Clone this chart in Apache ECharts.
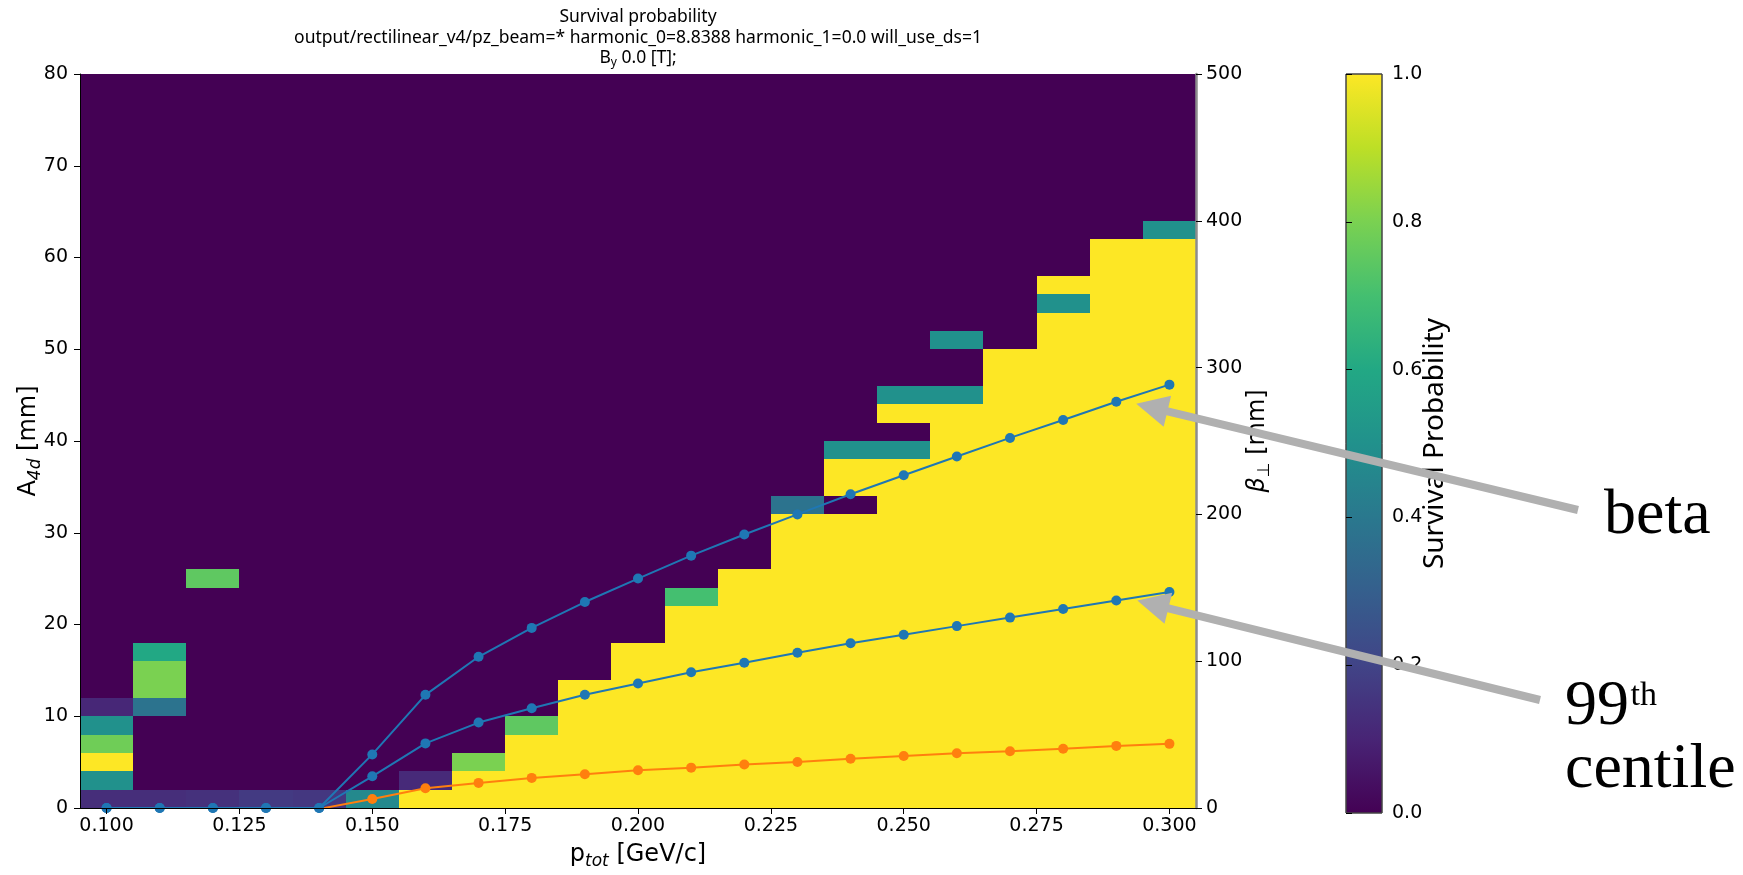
<!DOCTYPE html>
<html><head><meta charset="utf-8">
<script src="https://cdn.jsdelivr.net/npm/echarts@6/dist/echarts.min.js"></script>
<style>html,body{margin:0;padding:0;background:#fff}#c{width:1743px;height:875px}</style>
</head><body><div id="c"></div>
<script>
// ---------------- data ----------------
const pTot = [0.10,0.11,0.12,0.13,0.14,0.15,0.16,0.17,0.18,0.19,0.20,0.21,0.22,0.23,0.24,0.25,0.26,0.27,0.28,0.29,0.30];
const xTickValues = [0.100,0.125,0.150,0.175,0.200,0.225,0.250,0.275,0.300];
const pBinWidth = 0.01;     // GeV/c
const aBinWidth = 2;        // mm
const aMax = 80;
// survival probability per p_tot column, listed bottom-up in 2 mm A_4d bins (bins not listed are 0)
const surv010 = [0.13,0.5,1,0.78,0.5,0.11];
const surv011 = [0.13,0,0,0,0,0.38,0.8,0.8,0.6];
const surv012 = [0.14,0,0,0,0,0,0,0,0,0,0,0,0.75];
const surv013 = [0.17];
const surv014 = [0.16];
const surv015 = [0.47];
const surv016 = [1,0.12];
const surv017 = [1,1,0.8];
const surv018 = [1,1,1,1,0.75];
const surv019 = [1,1,1,1,1,1,1];
const surv020 = [1,1,1,1,1,1,1,1,1];
const surv021 = [1,1,1,1,1,1,1,1,1,1,1,0.7];
const surv022 = [1,1,1,1,1,1,1,1,1,1,1,1,1];
const surv023 = [1,1,1,1,1,1,1,1,1,1,1,1,1,1,1,1,0.38];
const surv024 = [1,1,1,1,1,1,1,1,1,1,1,1,1,1,1,1,0,1,1,0.5];
const surv025 = [1,1,1,1,1,1,1,1,1,1,1,1,1,1,1,1,1,1,1,0.5,0,1,0.5];
const surv026 = [1,1,1,1,1,1,1,1,1,1,1,1,1,1,1,1,1,1,1,1,1,1,0.5,0,0,0.5];
const surv027 = [1,1,1,1,1,1,1,1,1,1,1,1,1,1,1,1,1,1,1,1,1,1,1,1,1];
const surv028 = [1,1,1,1,1,1,1,1,1,1,1,1,1,1,1,1,1,1,1,1,1,1,1,1,1,1,1,0.5,1];
const surv029 = [1,1,1,1,1,1,1,1,1,1,1,1,1,1,1,1,1,1,1,1,1,1,1,1,1,1,1,1,1,1,1];
const surv030 = [1,1,1,1,1,1,1,1,1,1,1,1,1,1,1,1,1,1,1,1,1,1,1,1,1,1,1,1,1,1,1,0.5];
const survivalColumns = [surv010,surv011,surv012,surv013,surv014,surv015,surv016,surv017,surv018,surv019,surv020,
  surv021,surv022,surv023,surv024,surv025,surv026,surv027,surv028,surv029,surv030];

// beta_perp [mm] curves (right axis)
const betaCurve = [0,0,0,0,0,36.5,77.1,103.0,122.7,140.3,156.3,171.9,186.3,200.0,213.7,226.7,239.4,252.1,264.3,276.7,288.4];
const centile99 = [0,0,0,0,0,21.6,44.0,58.2,67.9,77.1,84.8,92.5,99.0,105.8,112.2,118.0,123.9,129.7,135.5,141.3,147.1];
const orangeCurve = [null,null,null,null,-0.6,6.1,13.5,17.1,20.5,23.0,25.7,27.5,29.6,31.3,33.5,35.4,37.3,38.7,40.4,42.3,43.7];

const viridis = ['#440154','#482475','#414487','#355f8d','#2a788e','#21918c','#22a884','#44bf70','#7ad151','#bddf26','#fde725'];

// ---------------- build ----------------
const cells = [];
pTot.forEach((p, i) => {
  const col = survivalColumns[i];
  for (let j = 0; j < aMax / aBinWidth; j++) {
    cells.push([p, (j + 0.5) * aBinWidth, j < col.length ? col[j] : 0]);
  }
});
const pairs = arr => pTot.map((p, i) => [p, arr[i]]).filter(d => d[1] !== null);

const G = {left: 80, top: 74, width: 1116, height: 739};
const CB = {left: 1346, top: 74, width: 36, height: 739};
const tickFont = {fontFamily: 'DejaVu Sans', fontSize: 19, color: '#000'};
const nameRich = {
  m: {fontFamily: 'DejaVu Sans', fontSize: 24, lineHeight: 30, color: '#000'},
  i: {fontFamily: 'DejaVu Sans', fontSize: 24, lineHeight: 30, fontStyle: 'italic', color: '#000'},
  s: {fontFamily: 'DejaVu Sans', fontSize: 17, lineHeight: 14, fontStyle: 'italic', verticalAlign: 'bottom', color: '#000'},
  su: {fontFamily: 'DejaVu Sans', fontSize: 17, lineHeight: 14, verticalAlign: 'bottom', color: '#000'}
};

const chart = echarts.init(document.getElementById('c'), null, {renderer: 'canvas'});
chart.setOption({
  animation: false,
  backgroundColor: '#fff',
  textStyle: {fontFamily: 'DejaVu Sans'},
  title: {
    text: '{t|Survival probability}\n{t|output/rectilinear_v4/pz_beam=* harmonic_0=8.8388 harmonic_1=0.0 will_use_ds=1}\n{t|B}{s|y}{t| 0.0 [T];}',
    left: G.left + G.width / 2, top: 7, textAlign: 'center', padding: 0,
    textStyle: {fontWeight: 'normal', rich: {
      t: {fontFamily: 'Noto Sans', fontSize: 17.5, fontWeight: 'normal', lineHeight: 20.5, color: '#000'},
      s: {fontFamily: 'Noto Sans', fontSize: 12, fontWeight: 'normal', lineHeight: 9, verticalAlign: 'bottom', color: '#000'}
    }}
  },
  grid: [
    {left: G.left, top: G.top, width: G.width, height: G.height},
    {left: CB.left, top: CB.top, width: CB.width, height: CB.height}
  ],
  visualMap: {type: 'continuous', min: 0, max: 1, dimension: 2, seriesIndex: 0, show: false, inRange: {color: viridis}},
  xAxis: [
    {gridIndex: 0, type: 'value', min: 0.095, max: 0.305, position: 'bottom', z: 10,
     axisLine: {lineStyle: {color: '#000', width: 1}},
     axisTick: {customValues: xTickValues, length: 6, lineStyle: {color: '#000'}},
     axisLabel: Object.assign({customValues: xTickValues, margin: 9, formatter: v => v.toFixed(3)}, tickFont),
     splitLine: {show: false},
     name: '{m|p}{s|tot}{m| [GeV/c]}', nameLocation: 'middle', nameGap: 32, nameMoveOverlap: false,
     nameTextStyle: {rich: nameRich}},
    {gridIndex: 0, type: 'value', min: 0.095, max: 0.305, position: 'top', z: 10,
     axisLine: {lineStyle: {color: '#000', width: 1}}, axisTick: {show: false}, axisLabel: {show: false}, splitLine: {show: false}},
    {gridIndex: 1, type: 'value', min: 0, max: 1, show: false}
  ],
  yAxis: [
    {gridIndex: 0, type: 'value', min: 0, max: 80, interval: 10, position: 'left', z: 10,
     axisLine: {show: true, lineStyle: {color: '#000', width: 1}},
     axisTick: {show: true, length: 6, lineStyle: {color: '#000'}},
     axisLabel: Object.assign({margin: 12}, tickFont),
     splitLine: {show: false},
     name: '{m|A}{s|4d}{m| [mm]}', nameLocation: 'middle', nameRotate: 90, nameGap: 36, nameMoveOverlap: false,
     nameTextStyle: {rich: nameRich}},
    {gridIndex: 0, type: 'value', min: 0, max: 500, interval: 100, position: 'right', z: 10,
     axisLine: {show: true, lineStyle: {color: '#8c8c8c', width: 2.5}},
     axisTick: {show: true, length: 6, lineStyle: {color: '#000'}},
     axisLabel: Object.assign({margin: 10}, tickFont),
     splitLine: {show: false},
     name: '{i|β}{su|⊥}{m| [mm]}', nameLocation: 'middle', nameRotate: 90, nameGap: 47, nameMoveOverlap: false,
     nameTextStyle: {rich: nameRich}},
    {gridIndex: 1, type: 'value', min: 0, max: 1, interval: 0.2, position: 'right', z: 10,
     axisLine: {show: false},
     axisTick: {show: true, length: 6, lineStyle: {color: '#000'}},
     axisLabel: Object.assign({margin: 10, formatter: v => v.toFixed(1)}, tickFont),
     splitLine: {show: false},
     name: 'Survival Probability', nameLocation: 'middle', nameRotate: 90, nameGap: 36, nameMoveOverlap: false,
     nameTextStyle: {fontFamily: 'Noto Sans', fontSize: 28, lineHeight: 34, color: '#000'}}
  ],
  series: [
    {type: 'custom', xAxisIndex: 0, yAxisIndex: 0, z: 2, data: cells, encode: {x: 0, y: 1},
     renderItem: (params, api) => {
       const xc = api.value(0), yc = api.value(1);
       const p0 = api.coord([xc - pBinWidth / 2, yc - aBinWidth / 2]);
       const p1 = api.coord([xc + pBinWidth / 2, yc + aBinWidth / 2]);
       const x0 = Math.round(p0[0]), x1 = Math.round(p1[0]);
       const y0 = Math.round(p0[1]), y1 = Math.round(p1[1]);
       return {type: 'rect', shape: {x: x0, y: y1, width: x1 - x0, height: y0 - y1}, style: {fill: api.visual('color')}};
     }},
    {type: 'line', name: 'beta', xAxisIndex: 0, yAxisIndex: 1, z: 4, data: pairs(betaCurve),
     symbol: 'circle', symbolSize: 10, showAllSymbol: true, color: '#1f77b4', lineStyle: {width: 2, color: '#1f77b4'}},
    {type: 'line', name: '99th centile', xAxisIndex: 0, yAxisIndex: 1, z: 4, data: pairs(centile99),
     symbol: 'circle', symbolSize: 10, showAllSymbol: true, color: '#1f77b4', lineStyle: {width: 2, color: '#1f77b4'}},
    {type: 'line', name: 'orange', xAxisIndex: 0, yAxisIndex: 1, z: 4, data: pairs(orangeCurve),
     symbol: 'circle', symbolSize: 10, showAllSymbol: true, color: '#ff7f0e', lineStyle: {width: 2, color: '#ff7f0e'}},
    {type: 'custom', xAxisIndex: 2, yAxisIndex: 2, data: [[0, 0]], z: 2,
     renderItem: (params, api) => {
       const a = api.coord([0, 0]), b = api.coord([1, 1]);
       const stops = viridis.map((c, k) => ({offset: k / (viridis.length - 1), color: c}));
       return {type: 'rect', shape: {x: a[0], y: b[1], width: b[0] - a[0], height: a[1] - b[1]},
         style: {fill: new echarts.graphic.LinearGradient(0, 1, 0, 0, stops), stroke: '#444', lineWidth: 1}};
     }}
  ]
});

// ---------------- annotations ----------------
const grey = '#b0b0b0';
const tipBeta = chart.convertToPixel({seriesIndex: 1}, [pTot[19], betaCurve[19]]);
const tipCent = chart.convertToPixel({seriesIndex: 2}, [pTot[19], centile99[19]]);
const arrows = [
  {tip: [tipBeta[0] + 20, tipBeta[1] + 2], tail: [1578, 510]},
  {tip: [tipCent[0] + 21, tipCent[1] + 0], tail: [1540, 700]}
];
const gfx = [];
arrows.forEach(a => {
  const dx = a.tail[0] - a.tip[0], dy = a.tail[1] - a.tip[1];
  const L = Math.hypot(dx, dy), ux = dx / L, uy = dy / L;
  const headLen = 32, headHalf = 16;
  const bx = a.tip[0] + ux * headLen, by = a.tip[1] + uy * headLen;
  gfx.push({type: 'line', z: 20, silent: true, shape: {x1: a.tail[0], y1: a.tail[1], x2: bx - ux * 2, y2: by - uy * 2},
    style: {stroke: grey, lineWidth: 8}});
  gfx.push({type: 'polygon', z: 20, silent: true,
    shape: {points: [a.tip, [bx - uy * headHalf, by + ux * headHalf], [bx + uy * headHalf, by - ux * headHalf]]},
    style: {fill: grey}});
});
const serif = '"Liberation Serif", "DejaVu Serif", serif';
gfx.push({type: 'text', z: 21, style: {text: 'beta', x: 1604, y: 516.5, font: '64px ' + serif, fill: '#000', verticalAlign: 'middle'}});
gfx.push({type: 'text', z: 21, style: {text: '99', x: 1565, y: 707, font: '64px ' + serif, fill: '#000', verticalAlign: 'middle'}});
gfx.push({type: 'text', z: 21, style: {text: 'th', x: 1630.5, y: 696.5, font: '34px ' + serif, fill: '#000', verticalAlign: 'middle'}});
gfx.push({type: 'text', z: 21, style: {text: 'centile', x: 1565, y: 770, font: '64px ' + serif, fill: '#000', verticalAlign: 'middle'}});
// white strip below the frame so markers sitting on zero are cut at the axis, as in the original
gfx.push({type: 'rect', z: 5, silent: true, shape: {x: G.left, y: G.top + G.height + 0.5, width: G.width, height: 9}, style: {fill: '#fff'}});
chart.setOption({graphic: gfx});
</script>
</body></html>
